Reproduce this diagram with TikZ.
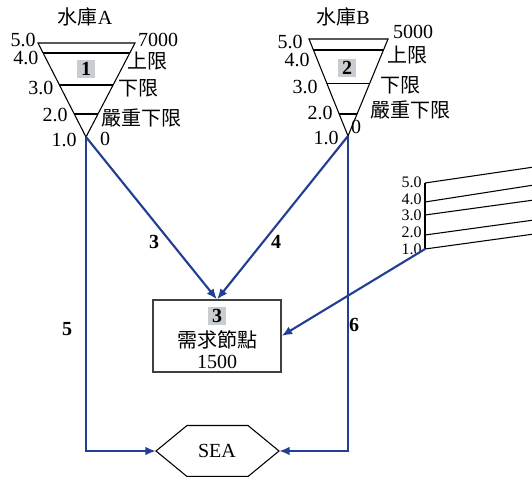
\documentclass[tikz,border=0pt]{standalone}
\usepackage{fontspec}
\setmainfont{Liberation Serif}
\newfontfamily\cjk{Noto Sans CJK TC}
\usepackage{tikz}
\usetikzlibrary{arrows.meta,calc}
\definecolor{flowBlue}{HTML}{233F94}
\definecolor{idGrey}{HTML}{C9CCD1}

\begin{document}
\begin{tikzpicture}[x=0.75pt,y=-0.75pt,
  flow/.style={draw=flowBlue,line width=1.6pt,-{Latex[length=8pt,width=6.5pt]}},
  thinline/.style={line width=0.8pt},
  lvl/.style={inner sep=0pt,font=\fontsize{15}{15}\selectfont},
  gaugelvl/.style={inner sep=0pt,font=\fontsize{12}{12}\selectfont},
  flownum/.style={inner sep=0pt,font=\fontsize{15}{15}\selectfont\bfseries},
  idbox/.style={fill=idGrey,minimum size=13.5pt,inner sep=0pt,font=\fontsize{15}{15}\selectfont\bfseries}]
\useasboundingbox (0,0) rectangle (532,476);

% reservoir A
\coordinate (tlA) at (38,43);
\coordinate (trA) at (135,43);
\coordinate (apexA) at (86,137);
\draw[thinline] (tlA) -- (trA) -- (apexA) -- cycle;
\foreach \t in {0.894,0.553,0.245}
  \draw[thinline] ($(apexA)!\t!(tlA)$) -- ($(apexA)!\t!(trA)$);
\node[idbox] (idA) at (86,69) {1};
\node[lvl] (nameA) at (85,17) {{\cjk 水庫}A};
\node[lvl] (a50) at (23,40) {5.0};
\node[lvl] (a40) at (26,58) {4.0};
\node[lvl] (a30) at (41,88) {3.0};
\node[lvl] (a20) at (55,115) {2.0};
\node[lvl] (a10) at (64,140) {1.0};
\node[lvl] (aTop) at (158,40) {7000};
\node[lvl] (aUp) at (147,61) {\cjk 上限};
\node[lvl] (aLow) at (138,88) {\cjk 下限};
\node[lvl] (aCrit) at (141,118) {\cjk 嚴重下限};
\node[lvl] (aZero) at (105,139) {0};

% reservoir B
\coordinate (tlB) at (309,39);
\coordinate (trB) at (388,39);
\coordinate (apexB) at (348,136);
\draw[thinline] (tlB) -- (trB) -- (apexB) -- cycle;
\foreach \t in {0.887,0.546,0.227}
  \draw[thinline] ($(apexB)!\t!(tlB)$) -- ($(apexB)!\t!(trB)$);
\node[idbox] (idB) at (347,68) {2};
\node[lvl] (nameB) at (343,17) {{\cjk 水庫}B};
\node[lvl] (b50) at (290,42) {5.0};
\node[lvl] (b40) at (297,60) {4.0};
\node[lvl] (b30) at (305,87) {3.0};
\node[lvl] (b20) at (320,113) {2.0};
\node[lvl] (b10) at (326,138) {1.0};
\node[lvl] (bTop) at (413,32) {5000};
\node[lvl] (bUp) at (407,55) {\cjk 上限};
\node[lvl] (bLow) at (400,85) {\cjk 下限};
\node[lvl] (bCrit) at (410,110) {\cjk 嚴重下限};
\node[lvl] (bZero) at (356,127) {0};

% inflow gauge
\coordinate (gauge) at (425,249);
\draw[thinline] (425,183) -- (gauge);
\foreach \ya/\yb/\yl/\v in {183/167/182/5.0,202/185/199/4.0,215/200/215/3.0,235/220/232/2.0,249/234/249/1.0}{
  \draw[thinline] (425,\ya) -- (534,\yb);
  \node[gaugelvl,anchor=east] at (422,\yl) {\v};
}

% demand node
\node[draw=black!75,thinline,minimum width=96pt,minimum height=54pt,inner sep=0pt] (demand) at (217,336) {};
\node[idbox] (idD) at (217,316) {3};
\node[lvl] (dName) at (217,340) {\cjk 需求節點};
\node[lvl] (dVal) at (217,362) {1500};

% sea
\node[lvl] (sea) at (217,451) {SEA};
\coordinate (seaW) at (156,451);
\coordinate (seaE) at (279,451);
\draw[thinline] (seaW) -- (187,425.5) -- (248,425.5) -- (seaE) -- (248,476.5) -- (187,476.5) -- cycle;

% flows
\draw[flow] (apexA) -- (demand.north);
\draw[flow] (apexB) -- (demand.north);
\draw[flow] (apexA) |- (seaW);
\draw[flow] (apexB) |- (seaE);
\draw[flow] (gauge) -- (demand.east);
\node[flownum] (f3) at (154,242) {3};
\node[flownum] (f4) at (276,242) {4};
\node[flownum] (f5) at (67,329) {5};
\node[flownum] (f6) at (354,325) {6};
\end{tikzpicture}
\end{document}
